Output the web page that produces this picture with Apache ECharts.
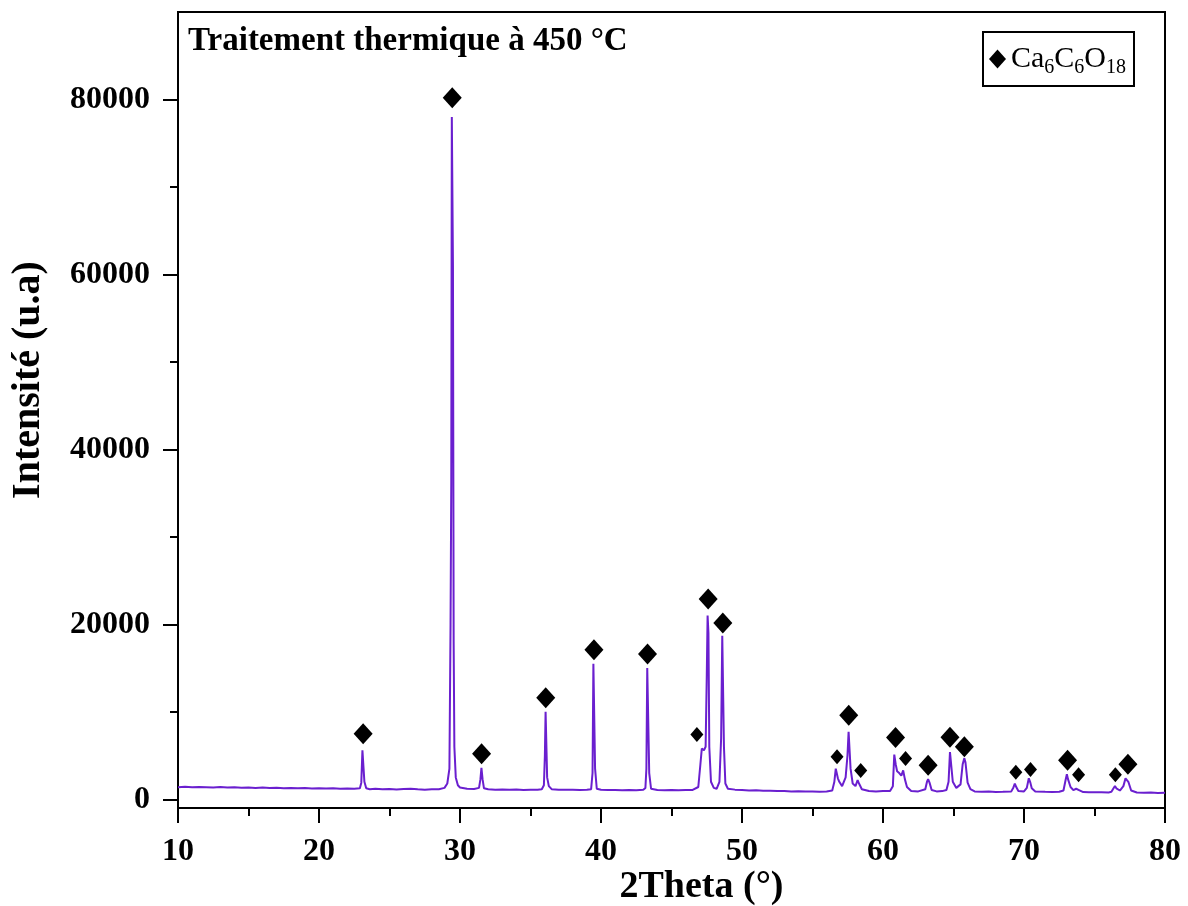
<!DOCTYPE html>
<html>
<head>
<meta charset="utf-8">
<script src="https://cdn.jsdelivr.net/npm/echarts@6/dist/echarts.min.js"></script>
<style>html,body{margin:0;padding:0;background:#fff}#c{width:1188px;height:906px}</style>
</head>
<body>
<div id="c"></div>
<script>
// XRD pattern: 2Theta (deg) and intensity (u.a)
const twoTheta = [
10.0,10.5,11.0,11.5,12.0,12.5,13.0,13.5,14.0,14.5,15.0,15.5,16.0,16.5,17.0,17.5,18.0,18.5,19.0,19.5,20.0,20.5,21.0,21.5,22.0,22.5,
22.9,23.0,23.08,23.15,23.22,23.35,23.6,24.0,24.5,25.0,25.5,26.0,26.5,27.0,27.5,28.0,28.5,
28.9,29.1,29.25,29.33,29.38,29.42,29.47,29.5,29.55,29.6,29.7,29.85,30.0,30.5,31.0,
31.35,31.45,31.52,31.6,31.7,32.0,32.5,33.0,33.5,34.0,34.5,35.0,35.5,
35.8,35.95,36.02,36.07,36.12,36.18,36.3,36.5,37.0,37.5,38.0,38.5,39.0,
39.3,39.4,39.46,39.52,39.58,39.7,40.0,40.5,41.0,41.5,42.0,42.5,
43.0,43.15,43.22,43.28,43.35,43.42,43.55,44.0,44.5,45.0,45.5,46.0,46.5,
46.9,47.05,47.15,47.3,47.42,47.5,47.56,47.62,47.68,47.8,48.0,48.2,48.4,48.52,48.6,48.66,48.72,48.82,49.0,49.5,
50.0,50.5,51.0,51.5,52.0,52.5,53.0,53.5,54.0,54.5,55.0,55.5,56.0,
56.4,56.55,56.65,56.72,56.8,56.9,57.1,57.35,57.48,57.56,57.62,57.7,57.85,58.05,58.2,58.3,58.5,
59.0,59.5,60.0,60.5,60.7,60.8,60.9,61.0,61.15,61.3,61.43,61.55,61.7,62.0,62.5,
63.0,63.12,63.2,63.3,63.45,63.8,64.2,64.5,64.65,64.75,64.85,64.95,65.2,65.5,65.65,65.77,65.85,66.0,66.2,66.5,
67.0,67.5,68.0,68.5,69.1,69.25,69.35,69.45,69.6,70.0,70.2,70.34,70.45,70.55,70.8,71.5,72.0,72.5,
72.8,72.95,73.04,73.12,73.3,73.5,73.7,73.8,73.9,74.2,74.6,75.0,75.5,76.0,
76.2,76.35,76.45,76.55,76.8,77.05,77.2,77.3,77.4,77.6,78.0,78.5,79.0,79.5,80.0
];
const intensity = [
1380,1420,1360,1400,1380,1350,1390,1340,1370,1320,1350,1300,1330,1280,1310,1260,1290,1250,1280,1240,1260,1230,1250,1210,1240,1200,
1260,1900,5600,5700,2000,1250,1150,1200,1130,1170,1120,1180,1210,1130,1100,1150,1150,
1300,1800,3500,20000,36000,78000,78000,61000,18000,6000,2500,1600,1350,1200,1180,
1300,2300,3600,2300,1250,1150,1100,1120,1080,1110,1070,1100,1090,
1150,1600,5000,10000,9800,2500,1500,1150,1100,1080,1090,1060,1080,
1150,3000,15500,15300,3500,1200,1080,1050,1070,1040,1060,1040,
1090,1300,3500,15000,14800,3000,1200,1060,1040,1050,1030,1050,1060,
1400,4000,5800,5600,6000,14000,21000,19000,6000,2000,1300,1200,2000,7000,18700,18500,6000,1800,1200,1100,
1050,1000,1020,960,980,930,950,900,920,880,900,870,890,
1000,2000,3500,3400,2400,2000,1500,2500,5000,7700,7500,3500,1800,1500,2200,1800,1150,
950,900,930,950,1500,5100,4000,3200,3000,2700,3300,2300,1400,950,900,
1150,2000,2300,1900,1050,900,930,1050,2000,5400,5200,2000,1300,1700,4000,4700,4200,1900,1150,900,
860,880,840,860,900,1350,1800,1400,950,900,1300,2400,1900,1250,900,850,830,860,
1000,2200,2850,2300,1400,1050,1200,1400,1050,820,800,790,810,780,
850,1250,1500,1250,1000,1500,2400,2550,2000,1000,780,740,760,720,740
];
// Peak markers (diamonds) for Ca6C6O18
const bigMarkX = [23.13,29.45,31.53,36.08,39.5,43.3,47.6,48.64,57.57,60.89,63.2,64.75,65.77,73.09,77.37];
const bigMarkY = [7500,80200,5200,11600,17100,16600,22900,20150,9600,7050,3900,7100,6000,4450,4000];
const smallMarkX = [46.8,56.74,58.42,61.6,69.42,70.46,73.87,76.48];
const smallMarkY = [7400,4850,3300,4650,3100,3400,2800,2800];
const xTicks = [10,20,30,40,50,60,70,80];
const yMajor = [0,20000,40000,60000,80000];
const yMinor = [10000,30000,50000,70000];
const phaseName = 'Ca6C6O18';

const lineData = twoTheta.map((x,i)=>[x,intensity[i]]);
const bigData = bigMarkX.map((x,i)=>[x,bigMarkY[i]]);
const smallData = smallMarkX.map((x,i)=>[x,smallMarkY[i]]);

const serif = '"Liberation Serif","Times New Roman",serif';
const chart = echarts.init(document.getElementById('c'), null, {renderer:'canvas'});
chart.setOption({
  backgroundColor:'#ffffff',
  animation:false,
  title:{
    text:'Traitement thermique à 450 °C',
    left:188, top:25, padding:0,
    textStyle:{fontFamily:serif, fontWeight:'bold', fontSize:33, color:'#000'}
  },
  legend:{
    data:[{name:phaseName, icon:'diamond'}],
    left:983, top:32,
    padding:[8,8,8,6],
    borderColor:'#000', borderWidth:2,
    itemWidth:17, itemHeight:19, itemGap:0,
    formatter:function(){return '{n|Ca}{s|6}{n|C}{s|6}{n|O}{s|18}';},
    textStyle:{
      fontFamily:serif, color:'#000', fontSize:30,
      rich:{
        n:{fontFamily:serif, fontSize:30, color:'#000', lineHeight:32, verticalAlign:'middle'},
        s:{fontFamily:serif, fontSize:20, color:'#000', lineHeight:32, padding:[18,0,0,0], verticalAlign:'middle'}
      }
    }
  },
  grid:{left:178, right:23, top:12, bottom:98, outerBoundsMode:'none', containLabel:false,
    show:true, borderColor:'#000', borderWidth:2, backgroundColor:'transparent'},
  xAxis:{
    type:'value', min:10, max:80, interval:10,
    name:'2Theta (°)', nameLocation:'middle', nameGap:60, nameMoveOverlap:false,
    nameTextStyle:{fontFamily:serif, fontWeight:'bold', fontSize:38, color:'#000', padding:[0,0,0,60]},
    axisLine:{show:true, onZero:false, lineStyle:{color:'#000', width:2}},
    axisTick:{show:true, inside:false, length:15, lineStyle:{color:'#000', width:2}},
    minorTick:{show:true, splitNumber:2, length:8, lineStyle:{color:'#000', width:2}},
    axisLabel:{fontFamily:serif, fontWeight:'bold', fontSize:32, color:'#000', margin:28,
      customValues:xTicks, formatter:function(v){return String(v);}},
    splitLine:{show:false}
  },
  yAxis:[{
    type:'value', min:-1000, max:90000,
    name:'Intensité (u.a)', nameLocation:'middle', nameGap:129,
    nameTextStyle:{fontFamily:serif, fontWeight:'bold', fontSize:40, color:'#000', padding:[0,0,0,60]},
    axisLine:{show:true, onZero:false, lineStyle:{color:'#000', width:2}},
    axisTick:{show:true, inside:false, length:15, lineStyle:{color:'#000', width:2}, customValues:yMajor},
    axisLabel:{fontFamily:serif, fontWeight:'bold', fontSize:32, color:'#000', margin:28, customValues:yMajor,
      formatter:function(v){return String(v);}},
    splitLine:{show:false}
  },{
    type:'value', min:-1000, max:90000, position:'left',
    axisLine:{show:false},
    axisTick:{show:true, inside:false, length:8, lineStyle:{color:'#000', width:2}, customValues:yMinor},
    axisLabel:{show:false},
    splitLine:{show:false}
  }],
  series:[{
    type:'line', name:'pattern', data:lineData, showSymbol:false, symbol:'none',
    lineStyle:{color:'#6a1fcf', width:2}, z:2
  },{
    type:'scatter', name:phaseName, data:bigData, symbol:'diamond', symbolSize:[19,21],
    itemStyle:{color:'#000', opacity:1}, z:3
  },{
    type:'scatter', name:phaseName, data:smallData, symbol:'diamond', symbolSize:[13,15],
    itemStyle:{color:'#000', opacity:1}, z:3
  }]
});
</script>
</body>
</html>
